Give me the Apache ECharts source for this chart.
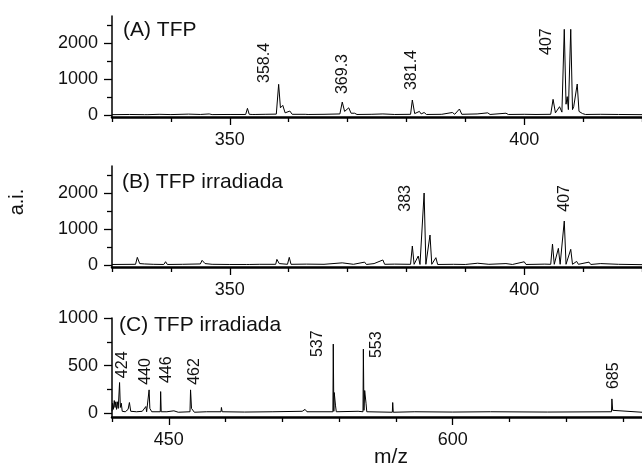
<!DOCTYPE html>
<html><head><meta charset="utf-8">
<script src="https://cdn.jsdelivr.net/npm/echarts@6/dist/echarts.min.js"></script>
<style>html,body{margin:0;padding:0;background:#fff}#c{width:642px;height:469px}</style>
</head><body><div id="c"></div>
<script>
// ---- Panel A: TFP ----
const mzA = [330,333,335.5,335.8,336.1,338,340,343,345,346.5,347,349.7,349.9,350.2,352.7,353.0,353.3,353.8,354.0,354.3,356,357.9,358.3,358.6,359.0,359.4,360.2,360.6,362.8,363.0,363.3,366,368.7,369.1,369.5,370.2,370.6,371.2,371.6,374,376,378,380.7,381.0,381.4,382.2,382.5,383.0,383.4,386,387.8,388.2,389.0,389.4,392.0,392.3,393.8,394.2,396.9,397.3,400,402,404.5,404.9,405.3,406.0,406.4,406.8,407.1,407.3,407.5,407.9,408.2,408.4,409.0,409.3,409.6,409.9,410.1,410.4,413,416,420];
const intA = [10,15,10,40,10,20,12,25,15,30,12,15,60,15,15,185,20,15,45,15,20,25,852,200,268,60,110,20,20,50,15,20,30,360,100,200,50,50,15,20,30,15,20,417,40,100,30,70,15,20,70,20,167,20,30,15,60,15,50,15,20,15,20,436,60,231,80,2380,300,510,150,2380,150,230,861,100,140,40,60,15,20,15,10];
// ---- Panel B: TFP irradiada ----
const mzB = [330,334.0,334.3,334.7,335.5,337,338.8,339.1,339.4,342,345.0,345.3,345.8,347,350,352.8,353.0,353.3,355,357.8,358.0,358.4,359.8,360.1,360.4,363,366,369.1,369.4,371,372.9,373.2,374.5,376.0,376.3,378,380.7,381.0,381.3,382.0,382.3,383.0,383.3,384.0,384.3,385.0,385.3,388,390,392.1,392.4,394,396.9,398,400.0,400.3,402,403.5,404.5,404.8,405.1,405.8,406.1,406.8,407.1,407.9,408.2,408.9,409.2,411.0,411.3,413.0,413.3,416,420];
const intB = [15,20,213,40,30,20,15,92,15,20,30,130,40,20,15,15,60,15,20,20,157,40,20,213,20,25,20,60,15,20,80,15,40,140,20,25,20,528,20,250,15,2000,20,833,20,204,15,20,15,50,15,20,40,15,90,15,20,25,20,583,20,463,20,1222,20,436,20,100,20,80,15,40,15,20,10];
// ---- Panel C: TFP irradiada (wide range) ----
const mzC = [420,420.3,420.7,421.2,421.6,422.0,422.4,422.8,423.3,424.0,424.4,424.9,425.4,427,428.5,429.2,429.9,433,436,437.9,438.3,439.6,440.0,440.5,441,445.5,445.7,446.0,449,452.7,455,461.2,461.5,462.0,463,463.5,470,477.6,477.8,478.2,490,505,520.5,522,523,536.7,536.9,537.2,537.4,538.1,538.5,550,552.6,552.8,553.1,553.5,554.2,554.6,568.1,568.3,568.6,580,600,620,650,683.9,684.1,684.5,685.5,700];
const intC = [20,105,40,133,60,120,40,120,50,322,60,105,20,15,40,112,20,15,20,70,15,245,50,60,15,15,227,15,15,25,10,15,245,50,40,10,15,15,60,15,12,15,20,40,15,15,726,20,217,77,15,20,15,673,30,238,105,15,10,112,10,15,12,15,12,15,150,30,10,10];

// peak annotations: text, m/z position, intensity at text start
const annAtext = ['358.4','369.3','381.4','407'];
const annAx = [355.9,369.2,380.8,403.8];
const annAy = [889,583,694,1667];
const annBtext = ['383','407'];
const annBx = [379.8,406.8];
const annBy = [1480,1480];
const annCtext = ['424','440','446','462','537','553','685'];
const annCx = [425.7,437.9,448.6,463.4,528.4,559.8,685.2];
const annCy = [368,298,316,298,589,579,253];

// axis ticks
const xMajorAB = [350,400];
const xMinorAB = [330,340,360,370,380,390,410,420];
const yMajorAB = [0,1000,2000];
const yMinorAB = [500,1500,2500];
const xMajorC = [450,600];
const xMinorC = [420,480,510,540,570,630,660,690];
const yMajorC = [0,500,1000];
const yMinorC = [250,750];

const panelTitles = ['(A) TFP','(B) TFP irradiada','(C) TFP irradiada'];

const FONT = 'Liberation Sans, Arial, sans-serif';
const zip = (a,b) => a.map((v,i)=>[v,b[i]]);
const plain = v => String(v);

const grids = [
  {left:112, top:16, width:537, height:101},
  {left:112, top:166, width:537, height:101},
  {left:112, top:318, width:537, height:99}
];
const xr = [[330,420],[330,420],[420,700]];
const yr = [[-55,2750],[-55,2750],[-40,1000]];
const xMaj = [xMajorAB,xMajorAB,xMajorC], xMin=[xMinorAB,xMinorAB,xMinorC];
const yMaj = [yMajorAB,yMajorAB,yMajorC], yMin=[yMinorAB,yMinorAB,yMinorC];

const xAxis = [], yAxis = [];
for (let g=0; g<3; g++){
  xAxis.push({type:'value', gridIndex:g, position:'bottom', min:xr[g][0], max:xr[g][1],
    axisLine:{show:true,onZero:false,lineStyle:{color:'#000',width:2.5}},
    axisTick:{show:true,customValues:xMaj[g],length:8,lineStyle:{color:'#000',width:1.3}},
    axisLabel:{show:true,customValues:xMaj[g],formatter:plain,fontSize:18,color:'#111',margin:14,fontFamily:FONT},
    splitLine:{show:false}});
  xAxis.push({type:'value', gridIndex:g, position:'bottom', min:xr[g][0], max:xr[g][1],
    axisLine:{show:false,onZero:false},
    axisTick:{show:true,customValues:xMin[g],length:5,lineStyle:{color:'#000',width:1.3}},
    axisLabel:{show:false}, splitLine:{show:false}});
  yAxis.push({type:'value', gridIndex:g, position:'left', min:yr[g][0], max:yr[g][1],
    axisLine:{show:true,onZero:false,lineStyle:{color:'#000',width:1.5}},
    axisTick:{show:true,customValues:yMaj[g],length:8,lineStyle:{color:'#000',width:1.3}},
    axisLabel:{show:true,customValues:yMaj[g],formatter:plain,fontSize:18,color:'#111',margin:14,fontFamily:FONT},
    splitLine:{show:false}});
  yAxis.push({type:'value', gridIndex:g, position:'left', min:yr[g][0], max:yr[g][1],
    axisLine:{show:false,onZero:false},
    axisTick:{show:true,customValues:yMin[g],length:5,lineStyle:{color:'#000',width:1.3}},
    axisLabel:{show:false}, splitLine:{show:false}});
}

const spectra = [zip(mzA,intA), zip(mzB,intB), zip(mzC,intC)];
const anns = [
  annAtext.map((t,i)=>[annAx[i],annAy[i],t]),
  annBtext.map((t,i)=>[annBx[i],annBy[i],t]),
  annCtext.map((t,i)=>[annCx[i],annCy[i],t])
];

const series = [];
for (let g=0; g<3; g++){
  series.push({type:'line', xAxisIndex:2*g, yAxisIndex:2*g, data:spectra[g],
    showSymbol:false, symbol:'none', lineStyle:{color:'#000',width:1}, clip:true});
  series.push({type:'custom', xAxisIndex:2*g, yAxisIndex:2*g, data:anns[g],
    renderItem:(params,api)=>{
      const p = api.coord([api.value(0), api.value(1)]);
      return {type:'text', x:p[0], y:p[1], rotation:Math.PI/2,
        style:{text:anns[g][params.dataIndex][2], fill:'#111', font:'16px '+FONT,
               textAlign:'left', textVerticalAlign:'middle'}};
    }});
}

const graphic = [
  {type:'text', left:123, top:20, style:{text:panelTitles[0], font:'21px '+FONT, fill:'#111'}},
  {type:'text', left:122, top:172, style:{text:panelTitles[1], font:'21px '+FONT, fill:'#111'}},
  {type:'text', left:119, top:315, style:{text:panelTitles[2], font:'21px '+FONT, fill:'#111'}},
  {type:'text', x:17, y:202, rotation:Math.PI/2, style:{text:'a.i.', font:'20px '+FONT, fill:'#111', textAlign:'center', textVerticalAlign:'middle'}},
  {type:'text', x:391, y:457, style:{text:'m/z', font:'21px '+FONT, fill:'#111', textAlign:'center', textVerticalAlign:'middle'}}
];

const chart = echarts.init(document.getElementById('c'), null, {renderer:'canvas'});
chart.setOption({animation:false, backgroundColor:'#fff', grid:grids, xAxis, yAxis, series, graphic});
</script></body></html>
